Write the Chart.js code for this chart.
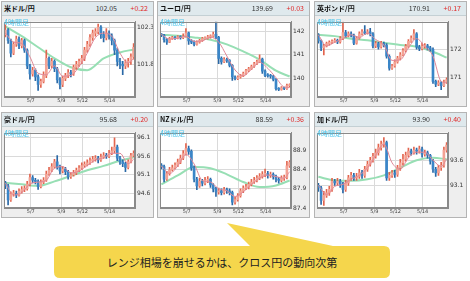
<!DOCTYPE html>
<html>
<head>
<meta charset="utf-8">
<title>クロス円 4時間足</title>
<script src="https://cdn.jsdelivr.net/npm/chart.js@4.4.1/dist/chart.umd.min.js"></script>
<style>
  body { margin: 0; width: 470px; height: 281px; background: #fff; position: relative; overflow: hidden;
         font-family: "Noto Sans CJK JP", "Noto Sans", sans-serif; }
  .panel { position: absolute; width: 151px; height: 104px; background: #eeeeee; border: 1px solid #b4b4b4; }
  .head { position: absolute; left: 0; top: 0; width: 151px; height: 13px; background: #dfe9ed;
          border-bottom: 1px solid #c4d0d4; font-size: 7px; line-height: 13px; }
  .head .name { position: absolute; left: 2px; font-weight: bold; color: #111; }
  .head .price { position: absolute; right: 36px; color: #333; }
  .head .chg { position: absolute; right: 5px; color: #e02828; }
  .panel canvas { position: absolute; left: 1px; top: 14px; }
  .tf { position: absolute; left: 2px; top: 15px; font-size: 7px; color: #4cc6ec; }
  #callout { position: absolute; left: 0; top: 0; }
  .note { position: absolute; left: 54px; top: 246px; width: 336px; height: 32px; line-height: 32px;
          text-align: center; font-size: 11px; color: #222; }
</style>
</head>
<body>

<svg id="callout" width="470" height="281">
  <path d="M60 246 H250 L227 223 L333 246 H384 Q390 246 390 252 V272 Q390 278 384 278 H60 Q54 278 54 272 V252 Q54 246 60 246 Z" fill="#f5d64c"/>
</svg>
<div class="note">レンジ相場を崩せるかは、クロス円の動向次第</div>

<script>
// date ticks (candle index where each day starts)
const dateLabels = ['5/7', '5/9', '5/12', '5/14'];
const datePos = [9.3, 20.5, 28.2, 38.2];

// moving average sample points (candle index)
const shortIdx = [0, 3, 6, 9, 12, 15, 18, 21, 24, 27, 30, 33, 36, 39, 42, 45, 47];
const longIdx = [0, 6, 12, 18, 24, 30, 36, 42, 47];

// 米ドル/円
const usdOpen = 102.20;
const usdClose = [102.26,102.12,101.95,102.07,102.14,102.05,102.12,101.99,101.78,101.67,101.72,101.63,101.53,101.57,101.65,101.88,101.78,101.84,101.74,101.59,101.53,101.61,101.65,101.69,101.67,101.76,101.80,101.84,101.88,101.99,102.07,102.16,102.22,102.24,102.30,102.20,102.16,102.22,102.18,102.12,101.99,101.84,101.80,101.78,101.82,101.84,101.90,102.03];
const usdHigh = [102.33,102.28,102.14,102.10,102.18,102.17,102.15,102.14,102.01,101.80,101.76,101.74,101.66,101.60,101.70,101.99,101.90,101.88,101.86,101.76,101.62,101.64,101.68,101.73,101.72,101.79,101.84,101.87,101.92,102.03,102.11,102.20,102.26,102.28,102.34,102.32,102.24,102.28,102.25,102.21,102.14,102.02,101.88,101.84,101.86,101.88,101.94,102.08];
const usdLow = [102.17,102.08,101.90,101.93,102.04,102.01,102.02,101.96,101.74,101.60,101.64,101.58,101.45,101.49,101.55,101.62,101.74,101.75,101.70,101.55,101.47,101.50,101.58,101.62,101.63,101.65,101.73,101.77,101.81,101.85,101.96,102.04,102.12,102.18,102.21,102.15,102.10,102.13,102.14,102.06,101.93,101.78,101.74,101.66,101.74,101.76,101.80,101.87];
const usdShort = [102.22,102.10,102.08,101.90,101.68,101.66,101.78,101.64,101.65,101.77,101.95,102.16,102.22,102.18,101.95,101.82,101.88];
const usdLong = [102.31,102.18,102.03,101.88,101.76,101.72,101.88,101.96,102.00];
const usdTicks = [101.8, 102.3];

// ユーロ/円
const eurOpen = 141.88;
const eurClose = [141.85,141.65,141.55,141.70,141.75,141.72,141.78,141.74,141.80,141.95,141.60,141.55,141.45,141.55,141.62,141.70,141.72,141.78,141.80,141.88,141.75,140.85,140.70,140.80,140.75,140.55,140.05,139.98,140.05,140.10,140.20,140.32,140.40,140.50,140.62,140.70,140.82,140.30,140.12,140.10,140.08,139.95,139.55,139.52,139.58,139.55,139.68,139.69];
const eurHigh = [141.92,141.88,141.70,141.75,141.80,141.79,141.83,141.82,141.90,142.13,141.98,141.66,141.60,141.60,141.67,141.75,141.78,141.84,141.86,141.98,142.42,141.80,140.92,140.88,140.86,140.80,140.58,140.10,140.10,140.16,140.26,140.38,140.46,140.56,140.68,140.78,141.00,140.86,140.36,140.20,140.16,140.12,139.98,139.60,139.64,139.62,139.74,139.76];
const eurLow = [141.78,141.55,141.45,141.52,141.66,141.66,141.69,141.68,141.70,141.76,141.45,141.48,141.38,141.42,141.50,141.58,141.66,141.68,141.72,141.76,141.70,140.62,140.60,140.66,140.68,140.48,139.90,139.92,139.94,140.00,140.06,140.16,140.28,140.36,140.46,140.58,140.66,140.20,140.06,140.04,140.00,139.88,139.48,139.46,139.48,139.50,139.52,139.62];
const eurShort = [141.88,141.68,141.72,141.80,141.58,141.60,141.76,141.55,140.95,140.35,140.10,140.38,140.68,140.42,140.02,139.62,139.60];
const eurLong = [141.87,141.82,141.75,141.65,141.45,141.15,140.80,140.32,140.07];
const eurTicks = [140, 141, 142];

// 英ポンド/円
const gbpOpen = 172.52;
const gbpClose = [172.30,172.05,172.12,172.20,172.25,172.28,172.32,172.26,172.38,172.60,172.48,172.55,172.50,172.22,172.40,172.55,172.62,172.58,172.62,172.55,172.12,172.20,172.08,172.20,172.15,171.75,171.32,171.40,171.55,171.68,171.80,171.95,172.10,172.28,172.40,172.55,172.08,172.02,172.10,172.12,172.05,172.00,170.85,170.75,170.80,170.70,170.82,170.91];
const gbpHigh = [172.56,172.34,172.18,172.26,172.30,172.34,172.38,172.36,172.45,172.97,172.68,172.62,172.62,172.54,172.46,172.62,172.70,172.85,172.70,172.75,172.60,172.28,172.25,172.28,172.26,172.20,171.80,171.46,171.62,171.75,171.88,172.02,172.18,172.35,172.48,172.70,172.60,172.14,172.22,172.20,172.18,172.10,172.05,170.90,170.88,170.84,170.90,170.98];
const gbpLow = [172.22,171.95,171.80,172.08,172.15,172.20,172.24,172.20,172.22,172.34,172.42,172.44,172.44,172.16,172.18,172.36,172.50,172.52,172.54,172.48,172.05,172.06,172.00,172.04,172.08,171.68,171.25,171.28,171.36,171.50,171.62,171.76,171.90,172.05,172.24,172.35,172.00,171.95,171.98,172.04,171.98,171.92,170.78,170.66,170.70,170.55,170.66,170.78];
const gbpShort = [172.52,172.12,172.25,172.38,172.52,172.42,172.58,172.35,172.15,171.60,171.62,172.05,172.38,172.10,171.75,170.85,170.80];
const gbpLong = [172.52,172.47,172.38,172.32,172.23,172.15,172.09,171.91,171.70];
const gbpTicks = [171, 172];

// 豪ドル/円
const audOpen = 94.88;
const audClose = [94.80,94.42,94.58,94.60,94.55,94.65,94.70,94.72,94.85,95.02,94.95,94.92,94.78,94.90,94.95,95.12,95.22,95.32,95.45,95.30,95.20,95.25,95.18,95.05,95.10,95.15,95.22,95.28,95.35,95.38,95.42,95.48,95.52,95.55,95.50,95.58,95.62,95.60,95.68,95.75,95.85,95.55,95.45,95.40,95.30,95.45,95.62,95.68];
const audHigh = [94.92,94.84,94.64,94.68,94.66,94.72,94.78,94.80,94.92,95.12,95.08,95.00,94.96,94.96,95.02,95.20,95.30,95.40,95.52,95.62,95.36,95.32,95.30,95.22,95.16,95.22,95.28,95.35,95.42,95.45,95.50,95.56,95.60,95.62,95.60,95.66,95.70,95.68,95.76,95.85,96.10,95.90,95.60,95.50,95.44,95.50,95.68,95.75];
const audLow = [94.72,94.28,94.38,94.52,94.48,94.52,94.60,94.64,94.68,94.80,94.88,94.85,94.70,94.74,94.86,94.92,95.08,95.18,95.28,95.25,95.12,95.15,95.10,94.98,95.00,95.06,95.10,95.18,95.24,95.30,95.34,95.38,95.44,95.47,95.42,95.46,95.54,95.54,95.56,95.64,95.70,95.48,95.38,95.32,95.18,95.26,95.42,95.58];
const audShort = [94.88,94.55,94.62,94.85,94.90,94.95,95.28,95.32,95.15,95.20,95.35,95.50,95.56,95.68,95.68,95.40,95.52];
const audLong = [94.88,94.84,94.80,94.92,95.07,95.22,95.34,95.48,95.57];
const audTicks = [94.6, 95.1, 95.6, 96.1];

// NZドル/円
const nzdOpen = 88.52;
const nzdClose = [88.48,88.15,88.30,88.40,88.45,88.52,88.60,88.70,88.82,88.95,88.88,88.45,88.15,87.98,88.10,88.05,88.12,88.15,88.00,87.90,87.82,87.85,87.80,87.88,87.85,87.80,87.55,87.62,87.72,87.85,87.92,87.95,88.02,88.08,88.12,88.18,88.22,88.28,88.30,88.25,88.28,88.22,88.15,88.12,88.18,88.20,88.50,88.59];
const nzdHigh = [88.56,88.52,88.36,88.46,88.52,88.58,88.68,88.78,88.90,89.08,89.02,88.92,88.50,88.20,88.18,88.15,88.20,88.22,88.18,88.04,87.94,87.92,87.90,87.94,87.92,87.90,87.84,87.68,87.78,87.90,87.98,88.02,88.08,88.15,88.20,88.25,88.30,88.35,88.42,88.36,88.34,88.32,88.26,88.20,88.24,88.26,88.62,88.64];
const nzdLow = [88.42,88.08,88.12,88.26,88.36,88.42,88.48,88.56,88.66,88.78,88.80,88.38,88.08,87.88,87.94,87.98,88.00,88.06,87.94,87.82,87.70,87.76,87.74,87.76,87.78,87.74,87.48,87.50,87.58,87.68,87.80,87.88,87.90,87.98,88.04,88.08,88.14,88.18,88.22,88.18,88.20,88.15,88.08,88.05,88.08,88.12,88.16,88.46];
const nzdShort = [88.50,88.30,88.50,88.80,88.55,88.12,88.08,87.90,87.85,87.70,87.82,88.02,88.18,88.26,88.22,88.18,88.35];
const nzdLong = [88.02,88.25,88.47,88.44,88.28,88.08,87.95,87.99,88.12];
const nzdTicks = [87.4, 87.9, 88.4, 88.9];

// 加ドル/円
const cadOpen = 93.10;
const cadClose = [93.05,92.80,92.90,92.95,93.02,93.18,93.15,93.18,93.12,93.02,93.15,93.25,93.30,93.25,93.28,93.35,93.30,93.42,93.52,93.60,93.68,93.75,93.85,93.92,93.95,93.25,93.30,93.35,93.32,93.45,93.55,93.62,93.70,93.78,93.75,93.80,93.78,93.82,93.72,93.75,93.70,93.58,93.42,93.35,93.45,93.50,93.80,93.90];
const cadHigh = [93.14,93.08,92.98,93.02,93.08,93.24,93.22,93.24,93.22,93.16,93.20,93.30,93.36,93.34,93.34,93.42,93.40,93.48,93.58,93.66,93.74,93.82,93.92,93.98,94.05,93.98,93.36,93.40,93.40,93.50,93.62,93.72,93.76,93.84,93.82,93.86,93.84,93.88,93.86,93.80,93.78,93.72,93.62,93.46,93.50,93.56,93.86,93.95];
const cadLow = [92.98,92.72,92.70,92.86,92.90,92.98,93.10,93.10,93.06,92.95,92.98,93.10,93.20,93.20,93.20,93.24,93.24,93.26,93.38,93.48,93.56,93.64,93.70,93.80,93.86,93.20,93.20,93.26,93.26,93.28,93.40,93.50,93.58,93.66,93.70,93.72,93.72,93.74,93.66,93.68,93.64,93.52,93.36,93.28,93.30,93.40,93.46,93.76];
const cadShort = [93.10,92.92,93.08,93.12,93.22,93.30,93.45,93.70,93.92,93.55,93.42,93.65,93.76,93.76,93.60,93.48,93.62];
const cadLong = [93.27,93.20,93.19,93.22,93.30,93.45,93.60,93.65,93.62];
const cadTicks = [93.1, 93.6];

const panels = [
  {name: '米ドル/円', price: '102.05', change: '+0.22', open: usdOpen, close: usdClose, high: usdHigh, low: usdLow,
   shortMa: usdShort, longMa: usdLong, ticks: usdTicks, min: 101.36, max: 102.375, digits: 1, left: 1, top: 1},
  {name: 'ユーロ/円', price: '139.69', change: '+0.03', open: eurOpen, close: eurClose, high: eurHigh, low: eurLow,
   shortMa: eurShort, longMa: eurLong, ticks: eurTicks, min: 139.19, max: 142.43, digits: 0, left: 157, top: 1},
  {name: '英ポンド/円', price: '170.91', change: '+0.17', open: gbpOpen, close: gbpClose, high: gbpHigh, low: gbpLow,
   shortMa: gbpShort, longMa: gbpLong, ticks: gbpTicks, min: 170.29, max: 172.99, digits: 0, left: 314, top: 1},
  {name: '豪ドル/円', price: '95.68', change: '+0.20', open: audOpen, close: audClose, high: audHigh, low: audLow,
   shortMa: audShort, longMa: audLong, ticks: audTicks, min: 94.2, max: 96.24, digits: 1, left: 1, top: 112},
  {name: 'NZドル/円', price: '88.59', change: '+0.36', open: nzdOpen, close: nzdClose, high: nzdHigh, low: nzdLow,
   shortMa: nzdShort, longMa: nzdLong, ticks: nzdTicks, min: 87.4, max: 89.37, digits: 1, left: 157, top: 112},
  {name: '加ドル/円', price: '93.90', change: '+0.40', open: cadOpen, close: cadClose, high: cadHigh, low: cadLow,
   shortMa: cadShort, longMa: cadLong, ticks: cadTicks, min: 92.65, max: 94.15, digits: 1, left: 314, top: 112}
];

const upBody = '#f3a294', upWick = '#e2654f';
const downBody = '#3a86c8', downWick = '#2a68a6';

// white plot area + frame
const plotFrame = {
  id: 'plotFrame',
  beforeDraw(chart) {
    const {ctx, chartArea: a} = chart;
    ctx.save();
    ctx.fillStyle = '#fff';
    ctx.fillRect(a.left, a.top, a.right - a.left, a.bottom - a.top);
    ctx.restore();
  },
  afterDraw(chart) {
    const {ctx, chartArea: a} = chart;
    ctx.save();
    ctx.strokeStyle = '#8a8a8a';
    ctx.lineWidth = 1;
    ctx.strokeRect(Math.round(a.left) + 0.5, Math.round(a.top) + 0.5,
                   Math.round(a.right - a.left) - 1, Math.round(a.bottom - a.top) - 1);
    ctx.restore();
  }
};

panels.forEach(p => {
  const box = document.createElement('div');
  box.className = 'panel';
  box.style.left = p.left + 'px';
  box.style.top = p.top + 'px';
  box.innerHTML = '<div class="head"><span class="name">' + p.name + '</span><span class="price">' + p.price +
    '</span><span class="chg">' + p.change + '</span></div>';
  const cv = document.createElement('canvas');
  cv.width = 150;
  cv.height = 90;
  box.appendChild(cv);
  const tf = document.createElement('div');
  tf.className = 'tf';
  tf.textContent = '4時間足';
  box.appendChild(tf);
  document.body.appendChild(box);

  const opens = p.close.map((c, i) => i === 0 ? p.open : p.close[i - 1]);
  const isUp = p.close.map((c, i) => c >= opens[i]);
  const n = p.close.length;

  new Chart(cv, {
    type: 'bar',
    data: {
      datasets: [
        {
          type: 'line', order: 1,
          data: p.shortMa.map((v, i) => ({x: shortIdx[i], y: v})),
          borderColor: '#e08898', borderWidth: 1, pointRadius: 0, tension: 0.4, cubicInterpolationMode: 'monotone'
        },
        {
          order: 2, grouped: false, barThickness: 2, minBarLength: 1,
          data: p.close.map((c, i) => ({x: i, y: [opens[i], c]})),
          backgroundColor: isUp.map(u => u ? upBody : downBody)
        },
        {
          order: 3, grouped: false, barThickness: 1,
          data: p.close.map((c, i) => ({x: i, y: [p.low[i], p.high[i]]})),
          backgroundColor: isUp.map(u => u ? upWick : downWick)
        },
        {
          type: 'line', order: 4,
          data: p.longMa.map((v, i) => ({x: longIdx[i], y: v})),
          borderColor: '#97dfb4', borderWidth: 2, pointRadius: 0, tension: 0.4, cubicInterpolationMode: 'monotone'
        }
      ]
    },
    options: {
      responsive: false,
      animation: false,
      events: [],
      layout: {padding: {left: 1, top: 1, right: 0, bottom: 0}},
      plugins: {legend: {display: false}, tooltip: {enabled: false}},
      scales: {
        x: {
          type: 'linear', min: -0.5, max: n - 0.5, offset: false,
          afterBuildTicks: s => { s.ticks = datePos.map(v => ({value: v})); },
          afterFit: s => { s.height = 9; },
          ticks: {
            callback: (v, i) => dateLabels[i],
            font: {size: 5, family: 'DejaVu Sans'}, color: '#444', maxRotation: 0, autoSkip: false, padding: 1
          },
          grid: {color: '#dadada', drawTicks: false, offset: false},
          border: {color: '#8a8a8a'}
        },
        y: {
          position: 'right', min: p.min, max: p.max,
          afterBuildTicks: s => { s.ticks = p.ticks.map(v => ({value: v})); },
          afterFit: s => { s.width = 18; },
          ticks: {
            callback: v => v.toFixed(p.digits),
            font: {size: 6, family: 'DejaVu Sans'}, color: '#333', padding: 2
          },
          grid: {color: '#dadada', drawTicks: false},
          border: {color: '#8a8a8a'}
        }
      }
    },
    plugins: [plotFrame]
  });
});
</script>
</body>
</html>
